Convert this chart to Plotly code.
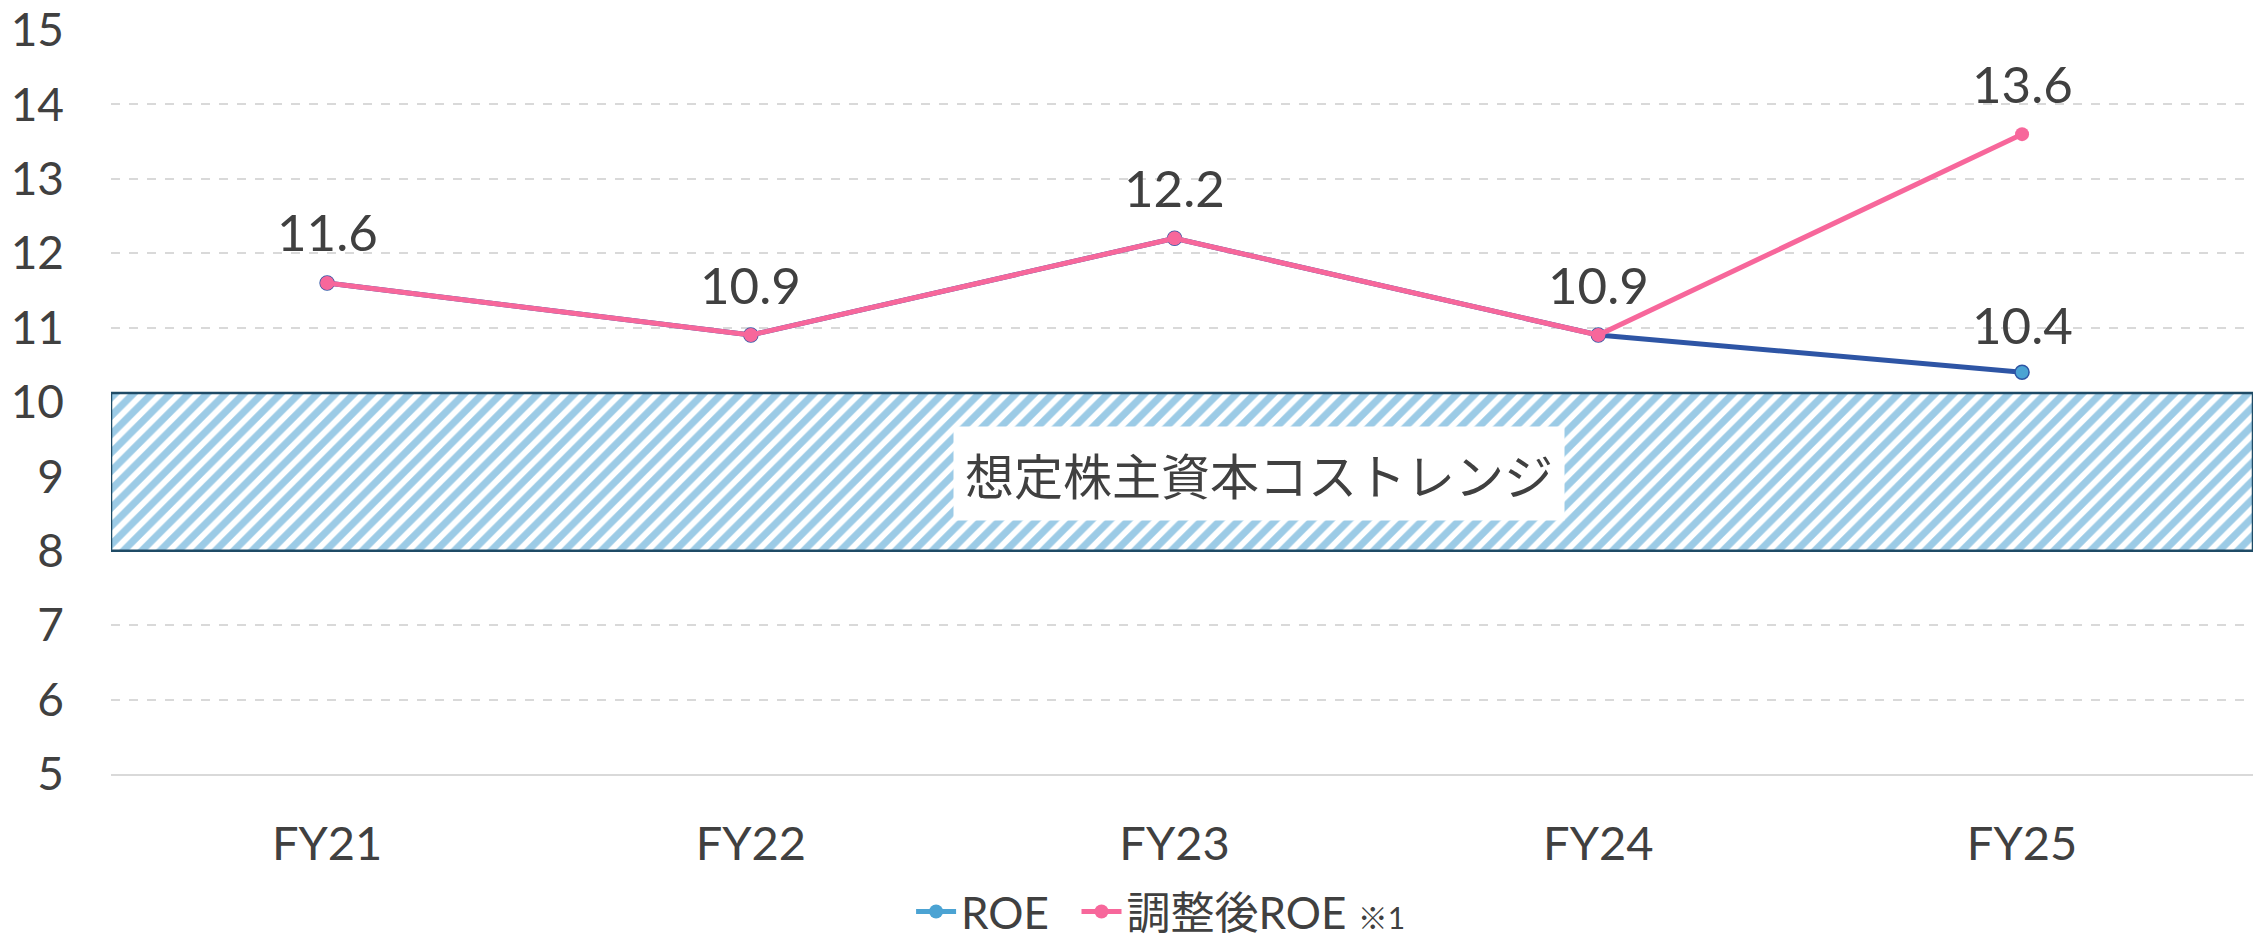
import plotly.graph_objects as go

# ---- data ----
categories = ["FY21", "FY22", "FY23", "FY24", "FY25"]
roe = [11.6, 10.9, 12.2, 10.9, 10.4]
adj_roe = [11.6, 10.9, 12.2, 10.9, 13.6]
cost_range = [8.0, 10.12]          # assumed cost-of-equity band (low, high)
cost_label = "想定株主資本コストレンジ"
y_ticks = list(range(5, 16))

# ---- style ----
PINK = "#F7679B"
NAVY = "#2E55A5"
LIGHT_BLUE = "#4BA3D3"
BAND_EDGE = "#1F4B66"
TEXT = "#404040"
GRID = "#D9D9D9"
NUM_FONT = "Lato, 'Noto Sans CJK JP', sans-serif"
CJK_FONT = "'Noto Sans CJK JP', Lato, sans-serif"

x_pos = list(range(len(categories)))
x_range = [-0.51, 4.545]

fig = go.Figure()

# hatched band
fig.add_trace(go.Bar(
    x=[(x_range[0] + x_range[1]) / 2],
    y=[cost_range[1] - cost_range[0]],
    base=[cost_range[0]],
    width=[x_range[1] - x_range[0]],
    marker=dict(
        color="white",
        line=dict(color=BAND_EDGE, width=2.5),
        pattern=dict(shape="/", fgcolor="#3A98CE", bgcolor="white",
                     size=13, solidity=0.55),
    ),
    showlegend=False, hoverinfo="skip",
))

# ROE line (drawn under the adjusted series)
fig.add_trace(go.Scatter(
    x=x_pos, y=roe, mode="lines+markers",
    line=dict(color=NAVY, width=5),
    marker=dict(size=14, color=LIGHT_BLUE, line=dict(color=NAVY, width=1.5)),
    showlegend=False, name="ROE",
))
# legend entry for ROE
fig.add_trace(go.Scatter(
    x=[None], y=[None], mode="lines+markers", name="ROE&nbsp;&nbsp;",
    line=dict(color=LIGHT_BLUE, width=5),
    marker=dict(size=14, color=LIGHT_BLUE),
))
# adjusted ROE
fig.add_trace(go.Scatter(
    x=x_pos, y=adj_roe, mode="lines+markers",
    name="調整後ROE <span style='font-size:30px'>※1</span>",
    line=dict(color=PINK, width=5),
    marker=dict(size=14, color=PINK),
))

# data labels
LABEL_FONT = dict(size=51, color=TEXT, family=NUM_FONT)
annotations = []
for i, v in enumerate(adj_roe):
    annotations.append(dict(x=x_pos[i], y=v, text=f"{v:.1f}", showarrow=False,
                            yshift=51, font=LABEL_FONT))
for i, (a, b) in enumerate(zip(roe, adj_roe)):
    if a != b:
        annotations.append(dict(x=x_pos[i], y=a, text=f"{a:.1f}", showarrow=False,
                                yshift=48, font=LABEL_FONT))
annotations.append(dict(x=2.2, y=sum(cost_range) / 2 - 0.02, text=cost_label,
                        showarrow=False, bgcolor="white", borderpad=11,
                        font=dict(size=49, color=TEXT, family=CJK_FONT)))

fig.update_layout(
    width=2259, height=929,
    margin=dict(l=103, r=14, t=22, b=163, autoexpand=False),
    paper_bgcolor="white", plot_bgcolor="white",
    annotations=annotations,
    showlegend=True,
    legend=dict(orientation="h", x=0.49, xanchor="center",
                yref="container", y=0.027, yanchor="middle",
                font=dict(size=44, color=TEXT, family=NUM_FONT),
                itemwidth=40, bgcolor="rgba(0,0,0,0)"),
    xaxis=dict(range=x_range, tickvals=x_pos, ticktext=categories,
               showgrid=False, zeroline=False, automargin=False,
               showline=True, linecolor=GRID, linewidth=2,
               ticks="", ticklabelstandoff=28,
               tickfont=dict(size=47, color=TEXT,
                             family="'Liberation Sans Narrow', " + NUM_FONT)),
    yaxis=dict(range=[5, 15], tickvals=y_ticks, showgrid=True,
               gridcolor=GRID, griddash="dash", gridwidth=1.5,
               zeroline=False, showline=False, ticks="", automargin=False,
               ticklabelstandoff=46, ticklabeloverflow="allow",
               tickfont=dict(size=46, color=TEXT, family=NUM_FONT)),
)

fig.write_html("out.html")
